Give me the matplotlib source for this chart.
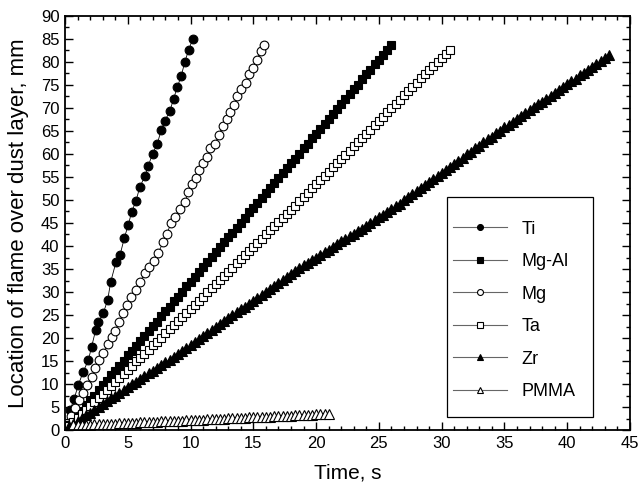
import matplotlib
matplotlib.use("Agg")
import matplotlib.pyplot as plt
from matplotlib.ticker import MultipleLocator
from matplotlib.lines import Line2D
from matplotlib.patches import Rectangle

plt.rcParams['font.family'] = ['Liberation Sans', 'DejaVu Sans']

# ---- data: flame front position over the dust layer ----
labels = ['Ti', 'Mg-Al', 'Mg', 'Ta', 'Zr', 'PMMA']

t_ti = [0.40, 0.72, 1.06, 1.46, 1.86, 2.12, 2.44, 2.65, 3.05, 3.40, 3.64, 4.06,
        4.38, 4.72, 5.04, 5.31, 5.65, 5.97, 6.37, 6.63, 6.98, 7.35, 7.67, 7.96,
        8.36, 8.65, 8.94, 9.26, 9.55, 9.85, 10.17]
y_ti = [4.3, 6.7, 9.8, 12.7, 15.2, 18.1, 21.7, 23.5, 25.4, 28.3, 32.2, 36.5,
        38.0, 41.7, 44.6, 47.4, 49.8, 52.9, 55.2, 57.4, 60.1, 62.2, 65.3, 67.2,
        69.4, 72.0, 74.5, 77.0, 80.1, 82.6, 85.0]

t_mg = [0.50, 0.80, 1.14, 1.41, 1.73, 2.12, 2.39, 2.73, 3.05, 3.45, 3.72, 3.98,
        4.32, 4.64, 4.91, 5.25, 5.65, 5.97, 6.37, 6.71, 7.11, 7.43, 7.83, 8.10,
        8.44, 8.76, 9.16, 9.55, 9.82, 10.12, 10.40, 10.70, 11.00, 11.30, 11.55,
        11.94, 12.26, 12.55, 12.87, 13.14, 13.46, 13.72, 14.01, 14.38, 14.65,
        14.94, 15.26, 15.60, 15.87]
y_mg = [3.0, 4.7, 6.5, 8.0, 9.8, 11.6, 13.4, 15.2, 16.7, 18.8, 20.3, 21.5,
        23.5, 25.4, 27.2, 29.0, 30.4, 32.2, 34.1, 35.5, 36.7, 38.5, 40.9, 42.6,
        44.9, 46.4, 48.0, 49.6, 51.7, 53.5, 54.8, 56.5, 58.0, 59.4, 61.2,
        62.2, 64.1, 66.1, 67.6, 69.2, 70.7, 72.6, 74.1, 75.5, 77.4,
        78.8, 80.4, 82.4, 83.7]

# video frame times (s) shared by the densely sampled records
t_frames = [0.33, 0.67, 1.00, 1.33, 1.67, 2.00, 2.33, 2.67, 3.00, 3.33,
            3.67, 4.00, 4.33, 4.67, 5.00, 5.33, 5.67, 6.00, 6.33, 6.67,
            7.00, 7.33, 7.67, 8.00, 8.33, 8.67, 9.00, 9.33, 9.67, 10.00,
            10.33, 10.67, 11.00, 11.33, 11.67, 12.00, 12.33, 12.67, 13.00, 13.33,
            13.67, 14.00, 14.33, 14.67, 15.00, 15.33, 15.67, 16.00, 16.33, 16.67,
            17.00, 17.33, 17.67, 18.00, 18.33, 18.67, 19.00, 19.33, 19.67, 20.00,
            20.33, 20.67, 21.00, 21.33, 21.67, 22.00, 22.33, 22.67, 23.00, 23.33,
            23.67, 24.00, 24.33, 24.67, 25.00, 25.33, 25.67, 26.00, 26.33, 26.67,
            27.00, 27.33, 27.67, 28.00, 28.33, 28.67, 29.00, 29.33, 29.67, 30.00,
            30.33, 30.67, 31.00, 31.33, 31.67, 32.00, 32.33, 32.67, 33.00, 33.33,
            33.67, 34.00, 34.33, 34.67, 35.00, 35.33, 35.67, 36.00, 36.33, 36.67,
            37.00, 37.33, 37.67, 38.00, 38.33, 38.67, 39.00, 39.33, 39.67, 40.00,
            40.33, 40.67, 41.00, 41.33, 41.67, 42.00, 42.33, 42.67, 43.00, 43.33]

y_mgal = [1.1, 2.1, 3.3, 4.2, 5.4, 6.5, 7.4, 8.6, 9.7, 10.7,
          11.9, 12.8, 14.0, 15.0, 16.2, 17.1, 18.3, 19.3, 20.4, 21.5,
          22.6, 23.5, 24.7, 25.8, 26.8, 28.0, 29.0, 30.0, 31.2, 32.2,
          33.2, 34.4, 35.4, 36.5, 37.6, 38.6, 39.8, 40.8, 41.9, 42.9,
          44.0, 45.1, 46.1, 47.3, 48.3, 49.4, 50.4, 51.6, 52.5, 53.7,
          54.8, 55.8, 56.9, 58.0, 59.0, 60.1, 61.2, 62.2, 63.4, 64.4,
          65.5, 66.5, 67.6, 68.7, 69.8, 70.8, 71.9, 73.0, 74.1, 75.1,
          76.2, 77.3, 78.3, 79.5, 80.5, 81.5, 82.7, 83.7]

y_ta = [0.9, 1.7, 2.6, 3.5, 4.4, 5.2, 6.1, 7.0, 7.8, 8.7,
        9.6, 10.5, 11.3, 12.2, 13.1, 14.0, 14.9, 15.7, 16.6, 17.5,
        18.4, 19.2, 20.1, 21.0, 21.9, 22.8, 23.7, 24.6, 25.5, 26.4,
        27.2, 28.1, 29.0, 29.9, 30.8, 31.7, 32.6, 33.5, 34.4, 35.3,
        36.2, 37.1, 38.0, 38.9, 39.8, 40.7, 41.6, 42.5, 43.4, 44.3,
        45.2, 46.1, 47.0, 47.9, 48.8, 49.8, 50.7, 51.6, 52.5, 53.4,
        54.3, 55.2, 56.1, 57.1, 58.0, 58.9, 59.8, 60.7, 61.7, 62.6,
        63.5, 64.4, 65.3, 66.3, 67.2, 68.1, 69.1, 70.0, 70.9, 71.8,
        72.8, 73.7, 74.6, 75.5, 76.5, 77.4, 78.3, 79.2, 80.0, 80.9,
        81.8, 82.6]

y_zr = [0.8, 1.4, 2.0, 2.6, 3.2, 3.8, 4.4, 5.0, 5.6, 6.2,
        6.9, 7.5, 8.1, 8.7, 9.3, 9.9, 10.5, 11.1, 11.7, 12.3,
        12.9, 13.5, 14.1, 14.7, 15.3, 15.9, 16.5, 17.1, 17.8, 18.4,
        19.1, 19.7, 20.4, 21.0, 21.7, 22.3, 23.0, 23.6, 24.3, 24.9,
        25.6, 26.2, 26.8, 27.5, 28.1, 28.8, 29.4, 30.1, 30.7, 31.4,
        32.0, 32.6, 33.3, 33.9, 34.6, 35.2, 35.8, 36.4, 37.0, 37.5,
        38.1, 38.7, 39.2, 39.8, 40.4, 41.0, 41.5, 42.1, 42.7, 43.2,
        43.8, 44.4, 45.0, 45.6, 46.2, 46.8, 47.4, 48.0, 48.6, 49.2,
        49.9, 50.6, 51.2, 51.9, 52.6, 53.2, 53.9, 54.6, 55.2, 55.9,
        56.6, 57.2, 57.9, 58.5, 59.2, 59.9, 60.5, 61.2, 61.8, 62.5,
        63.2, 63.8, 64.5, 65.1, 65.8, 66.4, 67.0, 67.6, 68.3, 68.9,
        69.5, 70.2, 70.8, 71.4, 72.0, 72.7, 73.3, 73.9, 74.6, 75.2,
        75.8, 76.4, 77.1, 77.7, 78.3, 79.0, 79.6, 80.2, 80.9, 81.5]

y_pmma = [1.00, 1.05, 1.08, 1.12, 1.17, 1.20, 1.25, 1.28, 1.33, 1.37,
          1.40, 1.45, 1.49, 1.53, 1.57, 1.61, 1.65, 1.70, 1.73, 1.78,
          1.81, 1.86, 1.90, 1.94, 1.98, 2.02, 2.06, 2.10, 2.15, 2.18,
          2.23, 2.27, 2.31, 2.35, 2.39, 2.43, 2.47, 2.51, 2.56, 2.59,
          2.64, 2.68, 2.72, 2.76, 2.80, 2.84, 2.88, 2.93, 2.96, 3.01,
          3.05, 3.09, 3.13, 3.17, 3.21, 3.25, 3.29, 3.34, 3.38, 3.42,
          3.46, 3.50]

t_mgal = t_frames[:len(y_mgal)]
t_ta = t_frames[:len(y_ta)]
t_zr = t_frames[:len(y_zr)]
t_pmma = t_frames[1:1 + len(y_pmma)]

# (x, y, marker, face colour, marker size)
series = [
    (t_ti, y_ti, 'o', 'black', 6.3),
    (t_mgal, y_mgal, 's', 'black', 6.2),
    (t_mg, y_mg, 'o', 'white', 6.3),
    (t_ta, y_ta, 's', 'white', 5.8),
    (t_zr, y_zr, '^', 'black', 7.2),
    (t_pmma, y_pmma, '^', 'white', 6.5),
]

fig = plt.figure(figsize=(6.4, 4.86), dpi=100)
ax = fig.add_axes([65 / 640, 56 / 486, 565 / 640, 414 / 486])

for (tx, yv, mk, fc, ms), lab in zip(series, labels):
    ax.plot(tx, yv, color='black', lw=0.6, marker=mk, ms=ms,
            mfc=fc, mec='black', mew=0.8, label=lab)

ax.set_xlim(0, 45)
ax.set_ylim(0, 90)
ax.xaxis.set_major_locator(MultipleLocator(5))
ax.xaxis.set_minor_locator(MultipleLocator(1))
ax.yaxis.set_major_locator(MultipleLocator(5))
ax.yaxis.set_minor_locator(MultipleLocator(2.5))
ax.tick_params(which='both', direction='in', top=True, right=True,
               labelsize=12, width=1.0, pad=4)
ax.tick_params(which='major', length=6)
ax.tick_params(which='minor', length=3)
for sp in ax.spines.values():
    sp.set_linewidth(1.3)

ax.set_xlabel('Time, s', fontsize=15, labelpad=9)
ax.set_ylabel('Location of flame over dust layer, mm', fontsize=16)
ax.yaxis.set_label_coords(-0.064, 0.5)

# legend box drawn as its own frame, entries placed inside it
ax.add_patch(Rectangle((0.676, 0.031), 0.258, 0.532, transform=ax.transAxes,
                       facecolor='white', edgecolor='black', lw=0.9, zorder=5))
handles = []
for (tx, yv, mk, fc, ms), lab in zip(series, labels):
    handles.append(Line2D([], [], color='0.4', lw=0.8, marker=mk, ms=ms * 0.68,
                          mfc=fc, mec='black', mew=0.8, label=lab))
leg = ax.legend(handles=handles, loc='upper left', bbox_to_anchor=(0.687, 0.506),
                borderaxespad=0, borderpad=0, fontsize=13, handlelength=3.0,
                handletextpad=0.8, labelspacing=0.86, frameon=False, numpoints=1)
leg.set_zorder(6)

fig.savefig('out.png', dpi=100)
